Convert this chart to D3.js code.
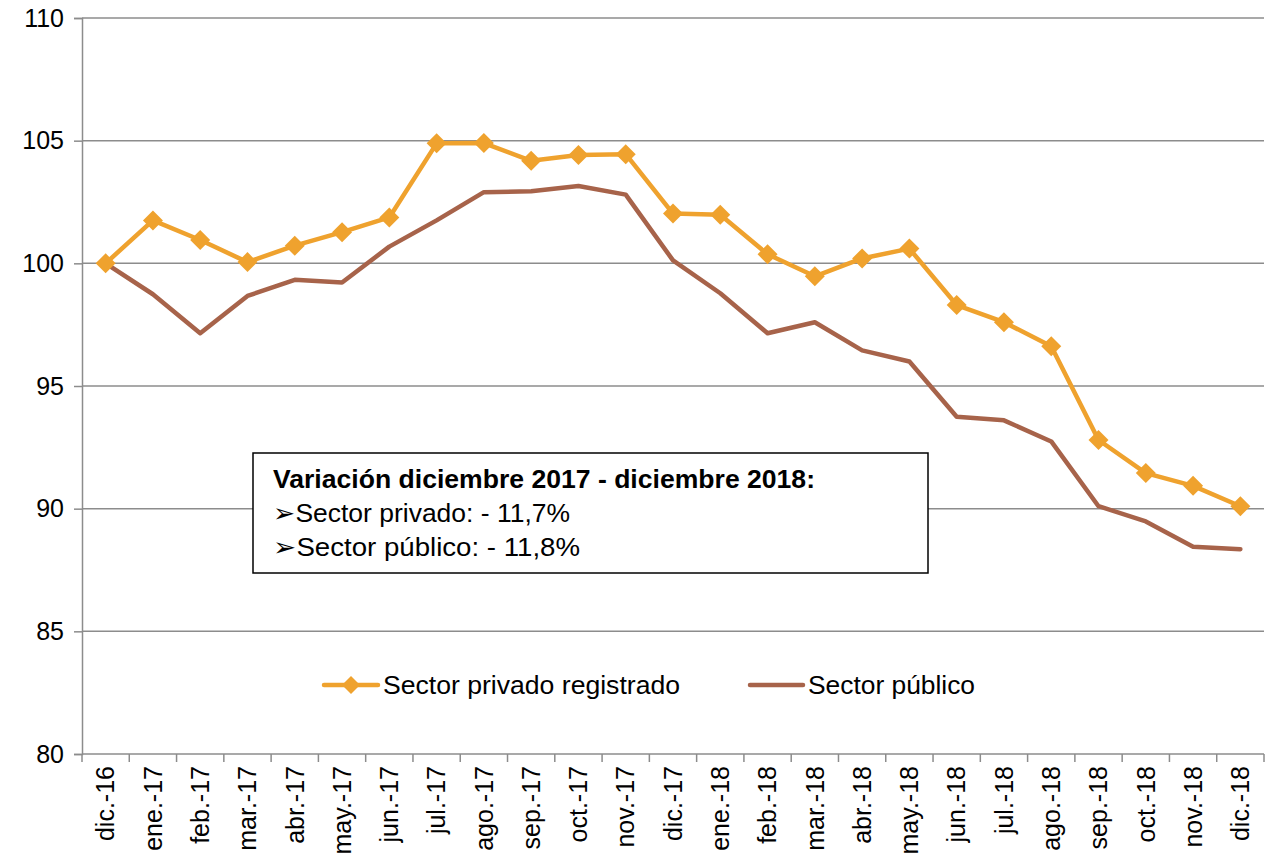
<!DOCTYPE html>
<html>
<head>
<meta charset="utf-8">
<script src="https://cdn.jsdelivr.net/npm/d3@7"></script>
<style>
  html, body { margin: 0; padding: 0; background: #fff; }
  svg { display: block; }
  text { font-family: "Liberation Sans", Arial, sans-serif; fill: #000; }
</style>
</head>
<body>
<svg id="chart" width="1276" height="866"></svg>
<script>
const categories = ["dic.-16","ene.-17","feb.-17","mar.-17","abr.-17","may.-17","jun.-17","jul.-17","ago.-17","sep.-17","oct.-17","nov.-17","dic.-17","ene.-18","feb.-18","mar.-18","abr.-18","may.-18","jun.-18","jul.-18","ago.-18","sep.-18","oct.-18","nov.-18","dic.-18"];
const privado = [100, 101.75, 100.95, 100.05, 100.72, 101.27, 101.87, 104.89, 104.9, 104.18, 104.42, 104.45, 102.03, 101.98, 100.37, 99.47, 100.2, 100.6, 98.3, 97.6, 96.62, 92.8, 91.45, 90.93, 90.1];
const publico = [100, 98.74, 97.15, 98.67, 99.33, 99.22, 100.68, 101.75, 102.9, 102.94, 103.15, 102.8, 100.12, 98.78, 97.15, 97.6, 96.45, 96.0, 93.75, 93.6, 92.74, 90.1, 89.48, 88.45, 88.35];
const yTicks = [80, 85, 90, 95, 100, 105, 110];
const seriesNames = ["Sector privado registrado", "Sector público"];
const noteTitle = "Variación diciembre 2017 - diciembre 2018:";
const noteLines = ["\u27A2Sector privado: - 11,7%", "\u27A2Sector público: - 11,8%"];

const colPriv = "#EFA22E", colPub = "#A7634A", gridCol = "#8c8c8c";
const L = 82, R = 1264, T = 18, B = 754;
const svg = d3.select("#chart");

const x = d3.scaleBand().domain(categories).range([L, R]);
const y = d3.scaleLinear().domain([80, 110]).range([B, T]);
const cx = d => x(d) + x.bandwidth() / 2;

// gridlines
svg.append("g").selectAll("line").data(yTicks.filter(t => t > 80)).join("line")
  .attr("x1", L).attr("x2", R).attr("y1", d => y(d)).attr("y2", d => y(d))
  .attr("stroke", gridCol).attr("stroke-width", 1.5);

// y axis
const yAxis = svg.append("g").attr("transform", `translate(${L},0)`)
  .call(d3.axisLeft(y).tickValues(yTicks).tickSize(8).tickPadding(10));
yAxis.select(".domain").attr("stroke", gridCol).attr("stroke-width", 1.5);
yAxis.selectAll(".tick line").attr("stroke", gridCol).attr("stroke-width", 1.5);
yAxis.selectAll(".tick text").attr("font-size", 25).attr("font-family", "Liberation Sans, Arial, sans-serif").attr("fill", "#000");

// x axis
svg.append("line").attr("x1", L).attr("x2", R).attr("y1", B).attr("y2", B)
  .attr("stroke", gridCol).attr("stroke-width", 1.5);
const bounds = categories.map(c => x(c)).concat([R]);
svg.append("g").selectAll("line").data(bounds).join("line")
  .attr("x1", d => d).attr("x2", d => d).attr("y1", B).attr("y2", B + 8)
  .attr("stroke", gridCol).attr("stroke-width", 1.5);
svg.append("g").selectAll("text").data(categories).join("text")
  .attr("transform", d => `translate(${cx(d)},${B + 12}) rotate(-90)`)
  .attr("text-anchor", "end").attr("dy", "0.35em")
  .attr("font-size", 25).text(d => d);

// lines
const line = d3.line().x((d, i) => cx(categories[i])).y(d => y(d));
svg.append("path").datum(publico).attr("d", line)
  .attr("fill", "none").attr("stroke", colPub).attr("stroke-width", 4.5).attr("stroke-linejoin", "round").attr("stroke-linecap", "round");
svg.append("path").datum(privado).attr("d", line)
  .attr("fill", "none").attr("stroke", colPriv).attr("stroke-width", 4.5).attr("stroke-linejoin", "round");

const diamond = s => `M0,${-s}L${s},0L0,${s}L${-s},0Z`;
svg.append("g").selectAll("path").data(privado).join("path")
  .attr("transform", (d, i) => `translate(${cx(categories[i])},${y(d)})`)
  .attr("d", diamond(10)).attr("fill", colPriv);

// annotation box
svg.append("rect").attr("x", 253).attr("y", 453).attr("width", 675).attr("height", 120)
  .attr("fill", "#fff").attr("stroke", "#000").attr("stroke-width", 1.5);
svg.append("text").attr("x", 273).attr("y", 488).attr("font-size", 26).attr("font-weight", "bold")
  .attr("textLength", 542).attr("lengthAdjust", "spacingAndGlyphs").text(noteTitle);
const noteLens = [297, 307];
noteLines.forEach((t, i) => {
  svg.append("text").attr("x", 273).attr("y", 522 + i * 34).attr("font-size", 26)
    .attr("textLength", noteLens[i]).attr("lengthAdjust", "spacingAndGlyphs").text(t);
});

// legend
const lg = svg.append("g");
lg.append("line").attr("x1", 324).attr("x2", 378).attr("y1", 685).attr("y2", 685)
  .attr("stroke", colPriv).attr("stroke-width", 4.5).attr("stroke-linecap", "round");
lg.append("path").attr("transform", "translate(351,685)").attr("d", diamond(9)).attr("fill", colPriv);
lg.append("text").attr("x", 383).attr("y", 685).attr("dy", "0.35em").attr("font-size", 26)
  .attr("textLength", 297).attr("lengthAdjust", "spacingAndGlyphs").text(seriesNames[0]);
lg.append("line").attr("x1", 750).attr("x2", 803).attr("y1", 685).attr("y2", 685)
  .attr("stroke", colPub).attr("stroke-width", 4.5).attr("stroke-linecap", "round");
lg.append("text").attr("x", 808).attr("y", 685).attr("dy", "0.35em").attr("font-size", 26)
  .attr("textLength", 167).attr("lengthAdjust", "spacingAndGlyphs").text(seriesNames[1]);
</script>
</body>
</html>
